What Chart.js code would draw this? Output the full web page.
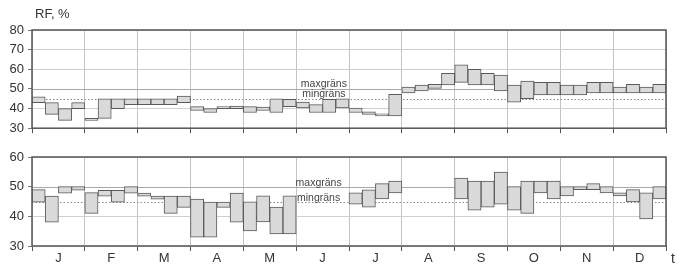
<!DOCTYPE html>
<html lang="sv">
<head>
<meta charset="UTF-8">
<title>RF, %</title>
<script src="https://cdn.jsdelivr.net/npm/chart.js"></script>
<style>
    body { margin: 0; background: #fff; font-family: "Liberation Sans", Arial, sans-serif; }
    #wrap { position: relative; width: 694px; height: 278px; }
    canvas { position: absolute; left: 0; }
    #topChart { top: 0; }
    #botChart { top: 140px; }
</style>
</head>
<body>
<div id="wrap">
    <canvas id="topChart" width="694" height="140"></canvas>
    <canvas id="botChart" width="694" height="138"></canvas>
</div>
<script>
    // månader och veckor (4 veckor per månad)
    const months = ['J', 'F', 'M', 'A', 'M', 'J', 'J', 'A', 'S', 'O', 'N', 'D'];
    const weeks = Array.from({ length: 48 }, (_, i) => 'v' + (i + 1));

    const maxGrans = 50;
    const minGrans = 45;

    // övre diagrammet
    const topMax = [46, 43, 40, 43, 35, 45, 45, 45, 45, 45, 45, 46.3,
        41, 40, 41, 41.3, 41, 40.7, 45, 44.7, 43.3, 42, 44.7, 45,
        40.3, 38.3, 37.3, 47.3, 51, 52, 52.3, 58, 62.3, 60, 58, 57,
        52, 54, 53.3, 53.3, 52, 52, 53.3, 53.3, 51, 52.3, 51, 52.3];
    const topMin = [43, 37, 34, 40, 34, 35, 40, 42, 42, 42, 42, 43,
        39, 38, 40, 40, 38, 39, 38, 41, 40.3, 38, 38, 40.3,
        38, 37, 36.3, 36.3, 48, 49, 50.3, 52, 53.3, 52, 52, 49,
        43.3, 45, 47, 47, 47, 47, 48, 48, 48, 48, 48, 48];

    // nedre diagrammet (juni och augusti saknas)
    const botMax = [49, 46.8, 50, 50, 48, 48.8, 48.8, 50, 47.8, 46.8, 46.8, 46.8,
        45.8, 44.8, 44.8, 47.8, 44.9, 46.9, 43.1, 46.9, null, null, null, null,
        47.9, 48.9, 51, 51.9, null, null, null, null, 52.9, 51.9, 51.9, 54.9,
        50, 51.9, 51.9, 51.9, 50, 50, 51, 50, 47.9, 49, 47.9, 50];
    const botMin = [44.8, 38, 47.8, 48.8, 41, 46.8, 44.8, 47.8, 46.8, 45.8, 41, 43,
        33, 33, 43, 38, 35.1, 38.1, 34.1, 34.1, null, null, null, null,
        44.1, 43.1, 45.9, 47.9, null, null, null, null, 45.9, 42.1, 43.1, 44.1,
        42.1, 41, 47.9, 45.9, 46.9, 49, 49, 47.9, 46.9, 44.9, 39.1, 45.9];

    const font = { family: '"Liberation Sans", Arial, sans-serif', size: 13 };

    function ranges(lo, hi) {
        return lo.map((v, i) => (v === null ? null : [v, hi[i]]));
    }

    // ram, gränslinjer och texter
    const gransPlugin = {
        id: 'grans',
        beforeDatasetsDraw(chart, args, opts) {
            const { ctx, chartArea: a, scales } = chart;
            ctx.save();
            ctx.lineWidth = 1;
            let y = Math.round(scales.y.getPixelForValue(maxGrans)) + 0.5;
            ctx.strokeStyle = '#a8a8a8';
            ctx.beginPath();
            ctx.moveTo(a.left, y);
            ctx.lineTo(a.right, y);
            ctx.stroke();
            y = Math.round(scales.y.getPixelForValue(minGrans)) + 0.5;
            ctx.strokeStyle = '#888';
            ctx.setLineDash([1.5, 2]);
            ctx.beginPath();
            ctx.moveTo(a.left, y);
            ctx.lineTo(a.right, y);
            ctx.stroke();
            ctx.restore();
        },
        afterDraw(chart, args, opts) {
            const { ctx, chartArea: a, scales } = chart;
            ctx.save();
            ctx.strokeStyle = '#555';
            ctx.lineWidth = 1.5;
            ctx.strokeRect(a.left, a.top, a.right - a.left, a.bottom - a.top);
            ctx.fillStyle = '#444';
            ctx.font = '10.5px "Liberation Sans", Arial, sans-serif';
            ctx.textAlign = 'center';
            ctx.textBaseline = 'middle';
            const x = scales.m.getPixelForValue(opts.textAt);
            ctx.fillText('maxgräns', x, scales.y.getPixelForValue(opts.maxY));
            ctx.fillText('mingräns', x, scales.y.getPixelForValue(opts.minY));
            ctx.fillStyle = '#333';
            if (opts.title) {
                ctx.font = '13px "Liberation Sans", Arial, sans-serif';
                ctx.textAlign = 'left';
                ctx.fillText(opts.title, 35, 14);
            }
            if (opts.tLabel) {
                ctx.font = '14px "Liberation Sans", Arial, sans-serif';
                ctx.textAlign = 'left';
                ctx.fillText('t', a.right + 5, a.bottom + 13);
            }
            ctx.restore();
        }
    };

    function makeChart(id, lo, hi, yMax, pad, mHeight, showMonths, gransOpts) {
        return new Chart(document.getElementById(id), {
            type: 'bar',
            data: {
                labels: weeks,
                datasets: [{
                    data: ranges(lo, hi),
                    backgroundColor: '#dadada',
                    borderColor: '#5a5a5a',
                    borderWidth: 1,
                    borderSkipped: false,
                    barPercentage: 1,
                    categoryPercentage: 1
                }]
            },
            options: {
                responsive: false,
                animation: false,
                layout: { padding: pad },
                plugins: { legend: { display: false }, tooltip: { enabled: false }, grans: gransOpts },
                scales: {
                    x: { display: false, offset: true },
                    m: {
                        type: 'linear', position: 'bottom', min: 0, max: 48,
                        offset: false,
                        afterFit: s => { s.height = mHeight; },
                        border: { display: false },
                        grid: {
                            offset: false,
                            color: c => (c.tick && c.tick.value % 4 === 0 ? '#c4c4c4' : 'transparent'),
                            tickColor: c => (c.tick && c.tick.value % 4 === 0 ? '#555' : 'transparent'),
                            tickLength: 5
                        },
                        ticks: {
                            display: showMonths, stepSize: 2, autoSkip: false, maxRotation: 0,
                            padding: 0, color: '#333', font: font,
                            callback: v => (v % 4 === 2 ? months[(v - 2) / 4] : '')
                        }
                    },
                    y: {
                        min: 30, max: yMax,
                        afterFit: s => { s.width = 32; },
                        border: { display: false },
                        grid: {
                            color: c => (c.tick && c.tick.value % 10 === 0 && c.tick.value !== maxGrans ? '#cfcfcf' : 'transparent'),
                            tickColor: '#777',
                            tickLength: 4
                        },
                        ticks: {
                            stepSize: 5, padding: 4, color: '#333', font: font,
                            callback: v => (v % 10 === 0 ? v : '')
                        }
                    }
                }
            },
            plugins: [gransPlugin]
        });
    }

    makeChart('topChart', topMin, topMax, 80, { top: 30, right: 28, left: 0, bottom: 0 }, 10, false,
        { textAt: 22.1, maxY: 52.5, minY: 47.2, title: 'RF, %' });
    makeChart('botChart', botMin, botMax, 60, { top: 17, right: 28, left: 0, bottom: 0 }, 32, true,
        { textAt: 21.7, maxY: 51.3, minY: 46, tLabel: true });
</script>
</body>
</html>
